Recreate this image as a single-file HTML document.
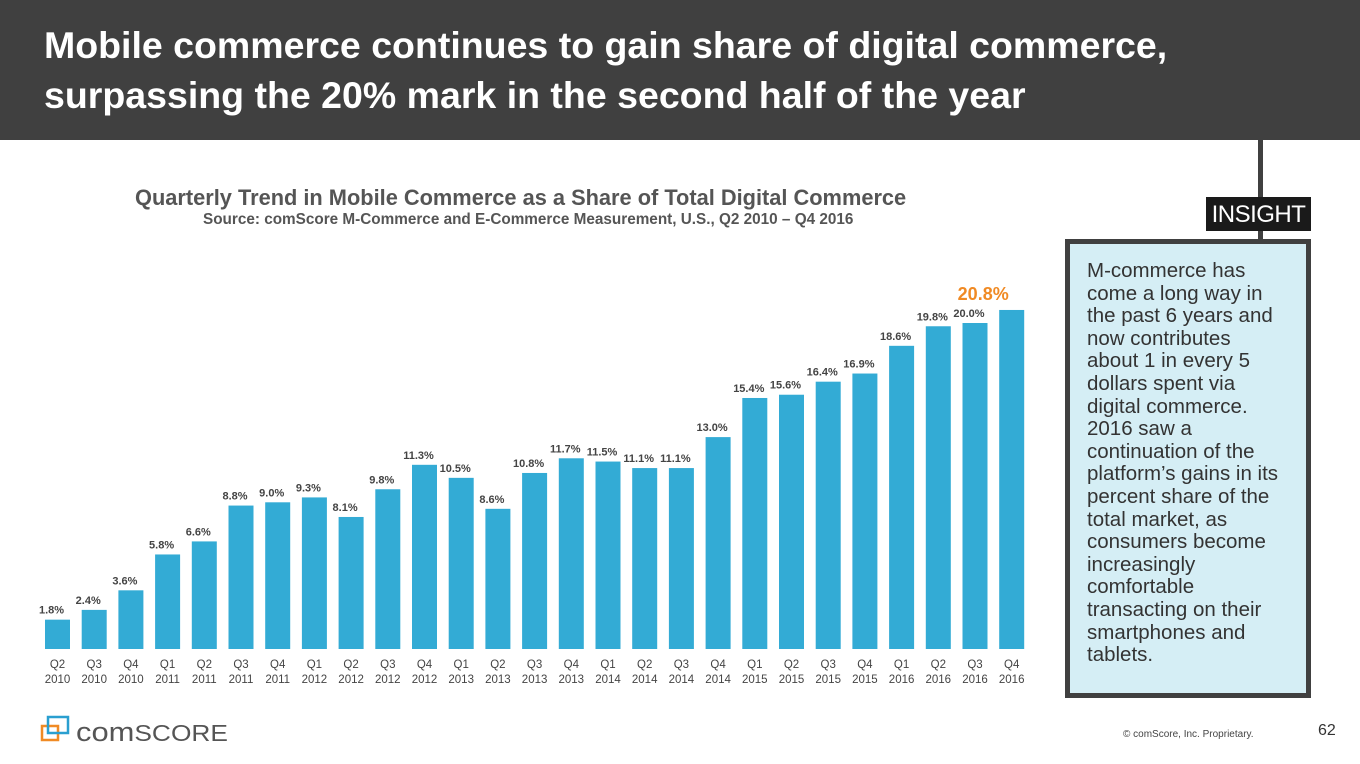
<!DOCTYPE html>
<html><head><meta charset="utf-8"><style>
body{margin:0;width:1360px;height:764px;overflow:hidden;background:#fff;font-family:"Liberation Sans",sans-serif;position:relative}
#hdr{position:absolute;left:0;top:0;width:1360px;height:140px;background:#404040}
#hdr h1{margin:0;position:absolute;left:44px;top:20px;color:#fff;font-size:37.5px;line-height:50px;font-weight:bold;white-space:nowrap}
#vline{position:absolute;left:1258px;top:140px;width:5px;height:100px;background:#404040}
#insight{position:absolute;left:1206px;top:197px;width:105px;height:34px;background:#1a1a1a;color:#fff;font-size:24px;line-height:36px;text-align:center;letter-spacing:-0.5px;font-weight:300}
#box{position:absolute;left:1065px;top:239px;width:236px;height:449px;border:5px solid #404040;background:#d5eef5}
#box p{margin:0;position:absolute;left:17px;top:16px;font-size:20.5px;line-height:22.6px;color:#333;white-space:nowrap}
#ctitle{position:absolute;left:135px;top:185px;font-size:21.8px;font-weight:bold;color:#555;white-space:nowrap}
#csrc{position:absolute;left:203px;top:211px;font-size:15.3px;font-weight:bold;color:#555;white-space:nowrap}
#copy{position:absolute;left:1123px;top:729px;font-size:10px;color:#444}
#pg{position:absolute;left:1318px;top:722px;font-size:16px;color:#333}
</style></head><body>
<div id="hdr"><h1>Mobile commerce continues to gain share of digital commerce,<br>surpassing the 20% mark in the second half of the year</h1></div>
<div id="vline"></div>
<div id="insight">INSIGHT</div>
<div id="box"><p>M-commerce has<br>come a long way in<br>the past 6 years and<br>now contributes<br>about 1 in every 5<br>dollars spent via<br>digital commerce.<br>2016 saw a<br>continuation of the<br>platform’s gains in its<br>percent share of the<br>total market, as<br>consumers become<br>increasingly<br>comfortable<br>transacting on their<br>smartphones and<br>tablets.</p></div>
<div id="ctitle">Quarterly Trend in Mobile Commerce as a Share of Total Digital Commerce</div>
<div id="csrc">Source: comScore M-Commerce and E-Commerce Measurement, U.S.,  Q2 2010 – Q4 2016</div>
<svg id="chart" width="1360" height="764" style="position:absolute;left:0;top:0"></svg>
<svg width="200" height="40" style="position:absolute;left:38px;top:710px">
<rect x="4" y="16" width="16" height="14" fill="none" stroke="#f08a24" stroke-width="2.5"/>
<rect x="10" y="7" width="20" height="16" fill="none" stroke="#2a9fd0" stroke-width="2.5"/>
<text x="38" y="31" font-family="Liberation Sans,sans-serif" font-size="27" fill="#555" textLength="152" lengthAdjust="spacingAndGlyphs">com<tspan font-size="23">SCORE</tspan></text>
</svg>
<div id="copy">© comScore, Inc. Proprietary.</div>
<div id="pg">62</div>
<script>
const quarters=["Q2","Q3","Q4","Q1","Q2","Q3","Q4","Q1","Q2","Q3","Q4","Q1","Q2","Q3","Q4","Q1","Q2","Q3","Q4","Q1","Q2","Q3","Q4","Q1","Q2","Q3","Q4"];
const years=["2010","2010","2010","2011","2011","2011","2011","2012","2012","2012","2012","2013","2013","2013","2013","2014","2014","2014","2014","2015","2015","2015","2015","2016","2016","2016","2016"];
const values=[1.8,2.4,3.6,5.8,6.6,8.8,9.0,9.3,8.1,9.8,11.3,10.5,8.6,10.8,11.7,11.5,11.1,11.1,13.0,15.4,15.6,16.4,16.9,18.6,19.8,20.0,20.8];
const svg=document.getElementById('chart');
const NS='http://www.w3.org/2000/svg';
const x0=45,step=36.7,bw=25,base=649,scale=16.3;
const xs=i=>x0+i*step;
const ys=v=>base-v*scale;
values.forEach((v,i)=>{
  const r=document.createElementNS(NS,'rect');
  
  
  r.setAttribute('x',xs(i));r.setAttribute('y',ys(v));r.setAttribute('width',bw);r.setAttribute('height',v*scale);r.setAttribute('fill','#33abd5');
  svg.appendChild(r);
  const last=i===values.length-1;
  const t=document.createElementNS(NS,'text');
  
  
  t.setAttribute('x',last?xs(i)-16:xs(i)+bw/2-6);t.setAttribute('y',ys(v)-(last?10:6));
  t.setAttribute('text-anchor','middle');t.setAttribute('font-size',last?'18':'11');t.setAttribute('font-weight','bold');
  t.setAttribute('fill',last?'#f08a24':'#444');t.setAttribute('font-family','Liberation Sans,sans-serif');
  t.textContent=v.toFixed(1)+'%';svg.appendChild(t);
  [quarters[i],years[i]].forEach((s,k)=>{
    const a=document.createElementNS(NS,'text');
    
    
    a.setAttribute('x',xs(i)+bw/2);a.setAttribute('y',668+k*15);a.setAttribute('text-anchor','middle');
    a.setAttribute('font-size','11.5');a.setAttribute('fill','#444');a.setAttribute('font-family','Liberation Sans,sans-serif');
    a.textContent=s;svg.appendChild(a);
  });
});
</script>
</body></html>
